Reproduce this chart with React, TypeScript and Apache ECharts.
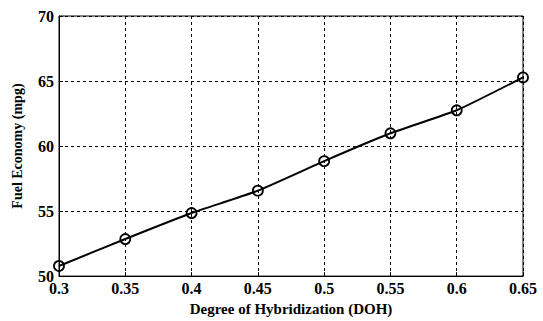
import React, { useEffect, useRef } from "react";
import * as echarts from "echarts";

const doh = [0.3, 0.35, 0.4, 0.45, 0.5, 0.55, 0.6, 0.65];
const mpg = [50.78, 52.85, 54.85, 56.57, 58.84, 60.98, 62.75, 65.28];
const xTicks = [0.3, 0.35, 0.4, 0.45, 0.5, 0.55, 0.6, 0.65];

export default function App() {
  const ref = useRef<HTMLDivElement>(null);
  useEffect(() => {
    const chart = echarts.init(ref.current!, null, { renderer: "svg" });
    const font = "Liberation Serif";
    chart.setOption({
      animation: false,
      backgroundColor: "#fff",
      grid: {
        left: 59,
        top: 16,
        right: 20,
        bottom: 41,
        show: true,
        borderColor: "#000",
        borderWidth: 1,
      },
      xAxis: {
        type: "value",
        min: 0.3,
        max: 0.65,
        interval: 0.05,
        name: "Degree of Hybridization (DOH)",
        nameLocation: "middle",
        nameGap: 23,
        nameTextStyle: { fontFamily: font, fontWeight: "bold", fontSize: 15, color: "#000" },
        axisLine: { lineStyle: { color: "#000" } },
        axisTick: { inside: true, length: 4, lineStyle: { color: "#000" } },
        axisLabel: {
          fontFamily: font,
          fontWeight: "bold",
          fontSize: 16,
          color: "#000",
          margin: 4,
          formatter: (v: number) => {
            const t = xTicks.find((x) => Math.abs(x - v) < 1e-6);
            return t === undefined ? "" : String(t);
          },
        },
        splitLine: { show: true, lineStyle: { color: "#000", type: [3, 3], width: 1 } },
      },
      yAxis: {
        type: "value",
        min: 50,
        max: 70,
        interval: 5,
        name: "Fuel Economy (mpg)",
        nameLocation: "middle",
        nameGap: 35,
        nameTextStyle: { fontFamily: font, fontWeight: "bold", fontSize: 14, color: "#000" },
        axisLine: { lineStyle: { color: "#000" } },
        axisTick: { inside: true, length: 4, lineStyle: { color: "#000" } },
        axisLabel: {
          fontFamily: font,
          fontWeight: "bold",
          fontSize: 16,
          color: "#000",
          margin: 5,
        },
        splitLine: { show: true, lineStyle: { color: "#000", type: [3, 3], width: 1 } },
      },
      series: [
        {
          type: "line",
          data: doh.map((x, i) => [x, mpg[i]]),
          smooth: 0.15,
          symbol: "circle",
          symbolSize: 10,
          itemStyle: { color: "rgba(255,255,255,0)", borderColor: "#000", borderWidth: 1.8 },
          lineStyle: { color: "#000", width: 2 },
        },
      ],
    });
    return () => chart.dispose();
  }, []);
  return <div ref={ref} style={{ width: 543, height: 321, position: "absolute", left: 0, top: 0 }} />;
}
